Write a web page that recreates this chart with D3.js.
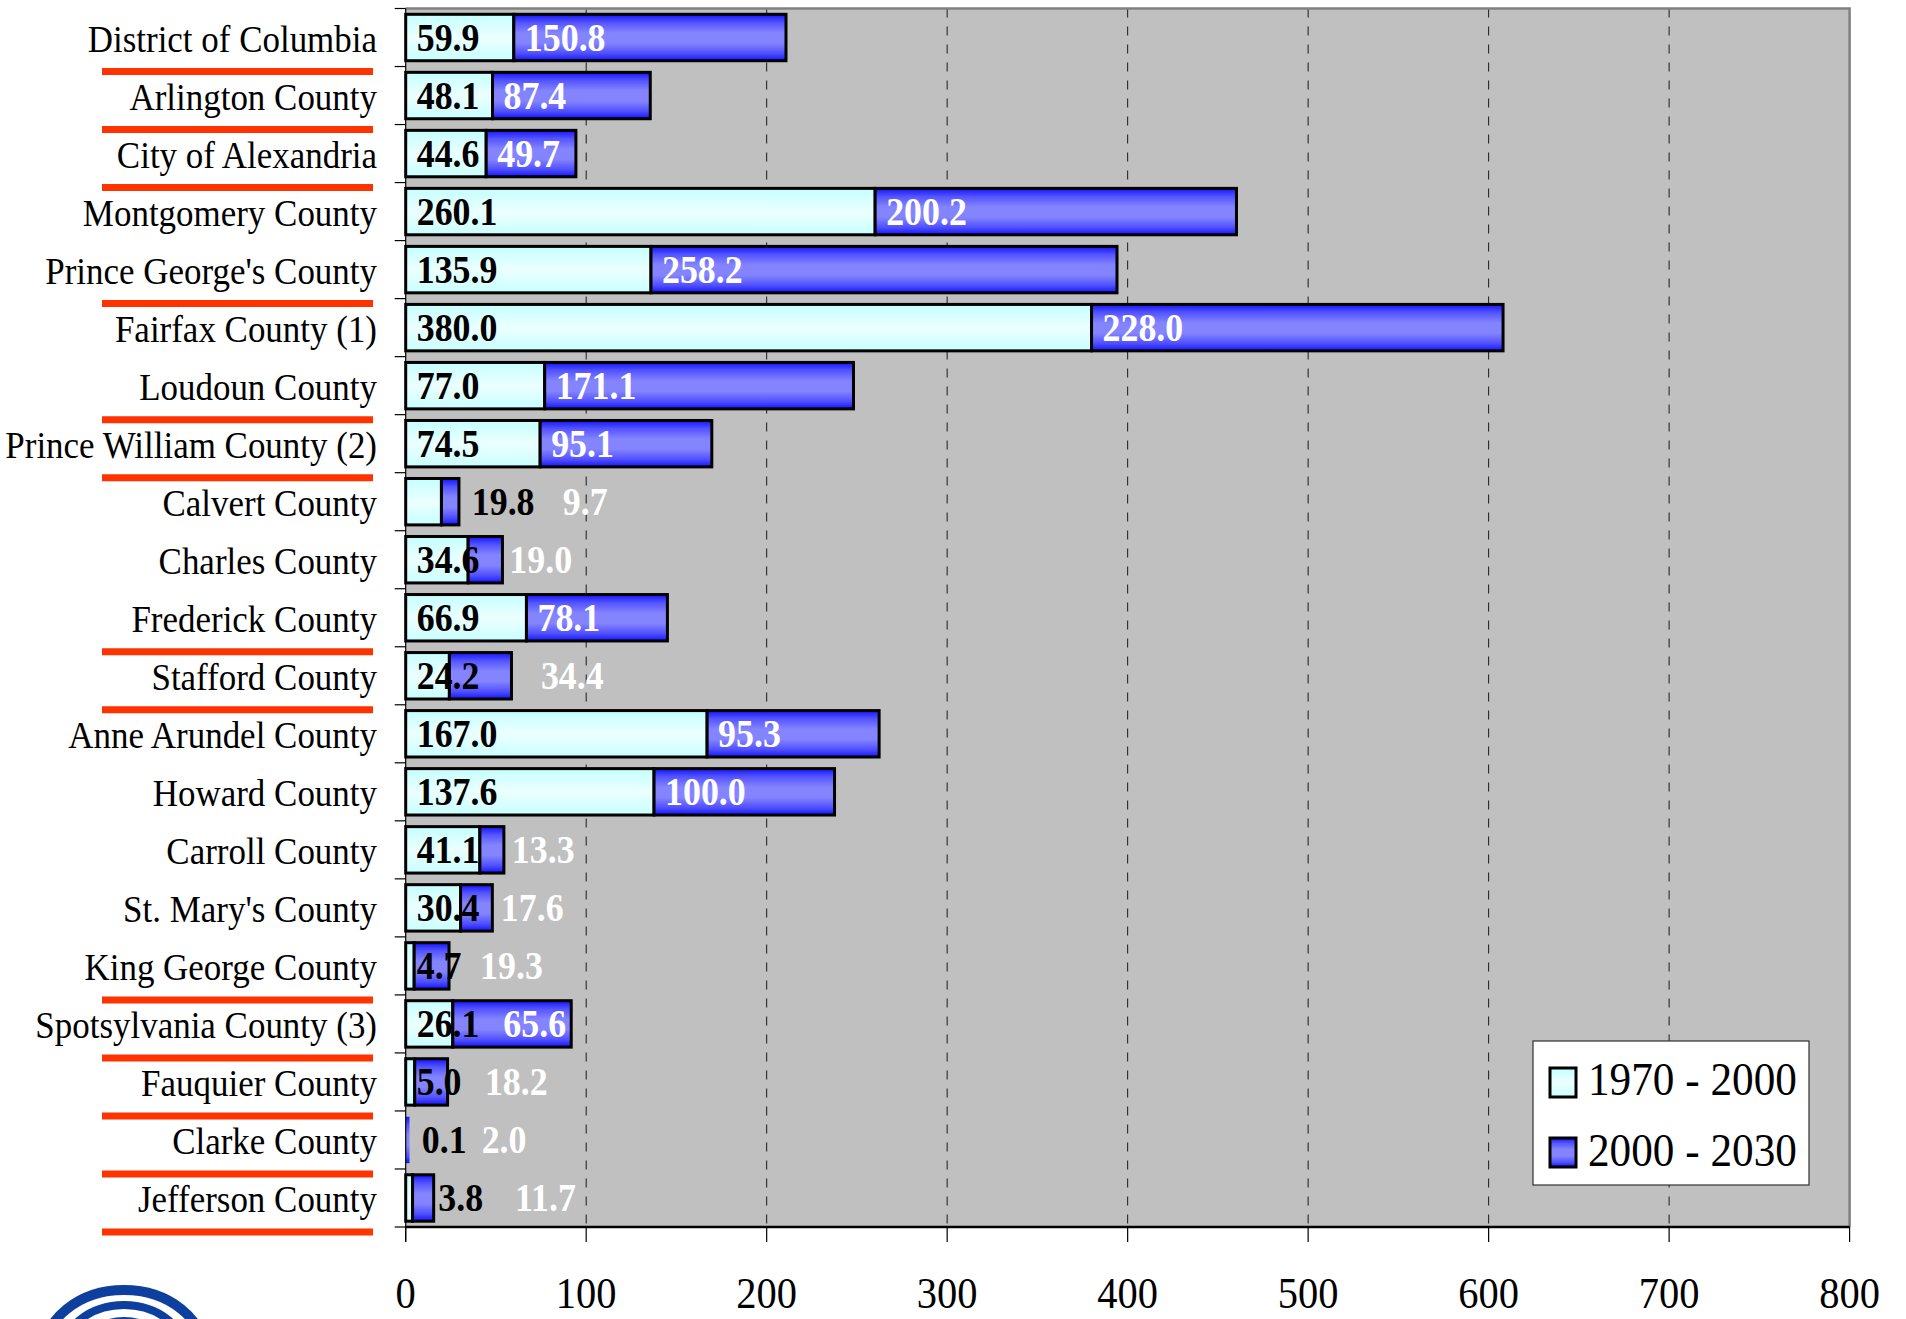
<!DOCTYPE html>
<html>
<head>
<meta charset="utf-8">
<script src="https://cdn.jsdelivr.net/npm/d3@7"></script>
<style>
  html, body { margin: 0; padding: 0; background: #ffffff; }
  svg { display: block; }
  text { font-family: "Liberation Serif", "Times New Roman", serif; }
</style>
</head>
<body>
<script>
// Population growth (thousands) by jurisdiction, two periods, stacked.
const categories = [
  "District of Columbia", "Arlington County", "City of Alexandria",
  "Montgomery County", "Prince George's County", "Fairfax County (1)",
  "Loudoun County", "Prince William County (2)", "Calvert County",
  "Charles County", "Frederick County", "Stafford County",
  "Anne Arundel County", "Howard County", "Carroll County",
  "St. Mary's County", "King George County", "Spotsylvania County (3)",
  "Fauquier County", "Clarke County", "Jefferson County"
];
const growth1970to2000 = [
  59.9, 48.1, 44.6, 260.1, 135.9, 380.0, 77.0, 74.5, 19.8, 34.6, 66.9,
  24.2, 167.0, 137.6, 41.1, 30.4, 4.7, 26.1, 5.0, 0.1, 3.8
];
const growth2000to2030 = [
  150.8, 87.4, 49.7, 200.2, 258.2, 228.0, 171.1, 95.1, 9.7, 19.0, 78.1,
  34.4, 95.3, 100.0, 13.3, 17.6, 19.3, 65.6, 18.2, 2.0, 11.7
];
const seriesNames = ["1970 - 2000", "2000 - 2030"];
const xTicks = [0, 100, 200, 300, 400, 500, 600, 700, 800];

// Row boundaries (counted from the top) that carry a red rule beside the labels.
const ruledBoundaries = [1, 2, 3, 5, 7, 8, 11, 12, 17, 18, 19, 20, 21];

// Hand-placed value labels for short bars, in axis units (null = default spot).
const label1At = [null, null, null, null, null, null, null, null, 36.6, null, null,
  null, null, null, null, null, null, null, null, 8.9, 18.1];
const label2At = [null, null, null, null, null, null, null, null, 87.0, 57.4, null,
  74.9, null, null, 58.8, 52.7, 41.2, 54.1, 43.9, 42.1, 60.6];

const W = 1906, H = 1319;
const plot = { left: 405.7, right: 1849.6, top: 8.5, bottom: 1227 };
const SQ = 0.92; // horizontal squeeze of the serif type

const svg = d3.select("body").append("svg").attr("width", W).attr("height", H);

const x = d3.scaleLinear().domain([0, 800]).range([plot.left, plot.right]);
const y = d3.scaleBand().domain(categories).range([plot.top, plot.bottom])
  .paddingInner(0.2).paddingOuter(0.1);
const bandTop = i => plot.top + i * (plot.bottom - plot.top) / categories.length;
const center = c => y(c) + y.bandwidth() / 2;

function sText(sel, tx, ty, str, size, opts = {}) {
  return sel.append("text")
    .attr("transform", `translate(${tx},${ty}) scale(${SQ},1)`)
    .attr("font-size", size)
    .attr("font-weight", opts.weight || "normal")
    .attr("fill", opts.fill || "#000")
    .attr("text-anchor", opts.anchor || "start")
    .text(str);
}

// gradients
const defs = svg.append("defs");
const gLight = defs.append("linearGradient").attr("id", "gLight")
  .attr("x1", 0).attr("y1", 0).attr("x2", 0).attr("y2", 1);
[["0%", "#c4ffff"], ["50%", "#ecffff"], ["100%", "#c8ffff"]]
  .forEach(([o, c]) => gLight.append("stop").attr("offset", o).attr("stop-color", c));
const gBlue = defs.append("linearGradient").attr("id", "gBlue")
  .attr("x1", 0).attr("y1", 0).attr("x2", 0).attr("y2", 1);
[["0%", "#1414ff"], ["18%", "#5555ff"], ["40%", "#8484ff"], ["62%", "#8484ff"],
 ["84%", "#5050ff"], ["100%", "#1414ff"]]
  .forEach(([o, c]) => gBlue.append("stop").attr("offset", o).attr("stop-color", c));

// plot area
svg.append("rect").attr("x", plot.left).attr("y", plot.top)
  .attr("width", plot.right - plot.left).attr("height", plot.bottom - plot.top)
  .attr("fill", "#c0c0c0");

// dashed gridlines
svg.append("g").selectAll("line").data(xTicks.filter(t => t > 0 && t < 800)).join("line")
  .attr("x1", d => x(d)).attr("x2", d => x(d))
  .attr("y1", plot.top).attr("y2", plot.bottom)
  .attr("stroke", "#1a1a1a").attr("stroke-width", 1)
  .attr("stroke-dasharray", "9,9");

// frame top/right
svg.append("path")
  .attr("d", `M${plot.left},${plot.top}H${plot.right}V${plot.bottom}`)
  .attr("fill", "none").attr("stroke", "#808080").attr("stroke-width", 2.5);

// bars
const rows = categories.map((c, i) => ({ c, i, a: growth1970to2000[i], b: growth2000to2030[i] }));
const barG = svg.append("g");
rows.forEach(r => {
  const y0 = y(r.c), h = y.bandwidth();
  barG.append("rect").attr("x", x(0)).attr("y", y0)
    .attr("width", x(r.a) - x(0)).attr("height", h)
    .attr("fill", "url(#gLight)")
    .attr("stroke", r.a >= 1 ? "#000" : "none").attr("stroke-width", 3);
  barG.append("rect").attr("x", x(r.a)).attr("y", y0)
    .attr("width", x(r.a + r.b) - x(r.a)).attr("height", h)
    .attr("fill", "url(#gBlue)")
    .attr("stroke", r.b >= 2.5 ? "#000" : "none").attr("stroke-width", 3);
});

// value labels
const labG = svg.append("g");
rows.forEach(r => {
  const cy = center(r.c) + 13.5;
  const x1 = label1At[r.i] != null ? x(label1At[r.i]) : x(0) + 11;
  const x2 = label2At[r.i] != null ? x(label2At[r.i]) : x(r.a) + 11;
  sText(labG, x1, cy, r.a.toFixed(1), 39, { weight: "bold", fill: "#000" });
  sText(labG, x2, cy, r.b.toFixed(1), 39, { weight: "bold", fill: "#ffffff" });
});

// left axis with boundary ticks
const axG = svg.append("g");
axG.append("line").attr("x1", plot.left).attr("x2", plot.left)
  .attr("y1", plot.top).attr("y2", plot.bottom + 15)
  .attr("stroke", "#000").attr("stroke-width", 1.2);
axG.selectAll(".yt").data(d3.range(categories.length + 1)).join("line")
  .attr("x1", plot.left - 11).attr("x2", plot.left)
  .attr("y1", d => bandTop(d)).attr("y2", d => bandTop(d))
  .attr("stroke", "#000").attr("stroke-width", 1.2);

// bottom axis
axG.append("line").attr("x1", plot.left).attr("x2", plot.right)
  .attr("y1", plot.bottom).attr("y2", plot.bottom)
  .attr("stroke", "#000").attr("stroke-width", 2.5);
axG.selectAll(".xt").data(xTicks).join("line")
  .attr("x1", d => x(d)).attr("x2", d => x(d))
  .attr("y1", plot.bottom).attr("y2", plot.bottom + 15)
  .attr("stroke", "#000").attr("stroke-width", 1.2);
xTicks.forEach(t => sText(axG, x(t), 1308, String(t), 44, { anchor: "middle" }));

// category labels
const catG = svg.append("g");
categories.forEach(c => sText(catG, 377, center(c) + 14.5, c, 38, { anchor: "end" }));

// red rules beside the labels
svg.append("g").selectAll("line").data(ruledBoundaries).join("line")
  .attr("x1", 102).attr("x2", 373)
  .attr("y1", d => bandTop(d) + 5).attr("y2", d => bandTop(d) + 5)
  .attr("stroke", "#ff3300").attr("stroke-width", 7);

// legend
const lg = svg.append("g");
lg.append("rect").attr("x", 1533).attr("y", 1041).attr("width", 276).attr("height", 144)
  .attr("fill", "#ffffff").attr("stroke", "#303030").attr("stroke-width", 1.2);
const swatchFill = ["url(#gLight)", "url(#gBlue)"];
seriesNames.forEach((s, k) => {
  const sy = k === 0 ? 1068 : 1138;
  lg.append("rect").attr("x", 1550).attr("y", sy).attr("width", 26).attr("height", 29)
    .attr("fill", swatchFill[k]).attr("stroke", "#000").attr("stroke-width", 3);
  sText(lg, 1588, k === 0 ? 1095 : 1166, s, 47);
});

// agency emblem, lower left
const logo = svg.append("g");
[[86, 70], [66, 54], [46, 38]].forEach(([rx, ry], k) => {
  const t = k === 0 ? 10 : 8;
  logo.append("ellipse").attr("cx", 124).attr("cy", 1285 + 70)
    .attr("rx", rx - t / 2).attr("ry", ry - t / 2)
    .attr("fill", "none").attr("stroke", "#0d3f9e").attr("stroke-width", t);
});
</script>
</body>
</html>
